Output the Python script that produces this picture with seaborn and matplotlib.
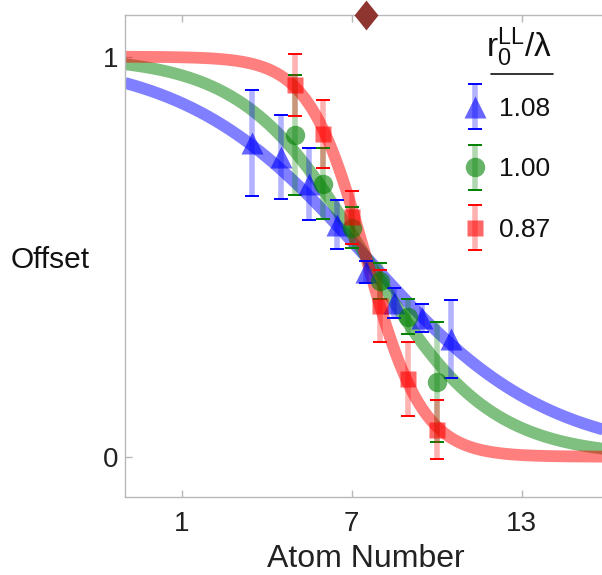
import numpy as np
import pandas as pd
import matplotlib
matplotlib.use("Agg")
import matplotlib.pyplot as plt
import seaborn as sns
from matplotlib.lines import Line2D
from matplotlib.container import ErrorbarContainer
from matplotlib.legend_handler import HandlerErrorbar

# ---- measured offsets per atom, for three values of r0/lambda ----
labels = ["1.08", "1.00", "0.87"]
legend_title = r"r$_0^{\mathrm{LL}}$/λ"
colors = ["#0000ff", "#008000", "#ff0000"]
markers = ["^", "o", "s"]
marker_sizes = [16, 14, 11.5]

atoms_108 = [3.5, 4.5, 5.5, 6.5, 7.5, 8.5, 9.5, 10.5]
offset_108 = [0.785, 0.749, 0.682, 0.580, 0.462, 0.385, 0.347, 0.294]
err_108 = [0.133, 0.105, 0.090, 0.061, 0.028, 0.038, 0.036, 0.097]

atoms_100 = [5, 6, 7, 8, 9, 10]
offset_100 = [0.804, 0.683, 0.573, 0.440, 0.350, 0.187]
err_100 = [0.150, 0.089, 0.052, 0.045, 0.044, 0.149]

atoms_087 = [5, 6, 7, 8, 9, 10]
offset_087 = [0.929, 0.806, 0.599, 0.377, 0.194, 0.068]
err_087 = [0.077, 0.085, 0.066, 0.091, 0.092, 0.074]

# Fermi-function fits: offset = 1 / (1 + exp((n - center) / width))
fit_center = [7.5, 7.5, 7.5]
fit_width = [3.2, 2.15, 1.0]
crossing_x = 7.5

xticks = [1, 7, 13]
yticks = [0, 1]

sns.set_theme(style="white")
plt.rcParams["font.family"] = ["Liberation Sans", "DejaVu Sans"]
plt.rcParams["mathtext.fontset"] = "custom"
plt.rcParams["mathtext.rm"] = "Liberation Sans"
plt.rcParams["mathtext.it"] = "Liberation Sans"

W, H = 602, 575
fig = plt.figure(figsize=(W / 100, H / 100), dpi=100)

ax_left, ax_bottom_px, ax_top_px = 125, 496.7, 14.7
xlim = (-1, 16.5)
ppu = 28.33
ax_w = (xlim[1] - xlim[0]) * ppu
ax_h = ax_bottom_px - ax_top_px
ax = fig.add_axes([ax_left / W, (H - ax_bottom_px) / H, ax_w / W, ax_h / H])

# fitted curves
xs = np.linspace(xlim[0], xlim[1], 400)
for c, w, col in zip(fit_center, fit_width, colors):
    curve = pd.DataFrame({"n": xs, "y": 1.0 / (1.0 + np.exp((xs - c) / w))})
    sns.lineplot(data=curve, x="n", y="y", ax=ax, color=col, alpha=0.5,
                 lw=8.5, solid_capstyle="butt", zorder=2)

# data points with error bars
series = [(atoms_108, offset_108, err_108),
          (atoms_100, offset_100, err_100),
          (atoms_087, offset_087, err_087)]
handles = []
for (xv, yv, ev), col, mk, ms in zip(series, colors, markers, marker_sizes):
    rgb = matplotlib.colors.to_rgb(col)
    eb = ax.errorbar(xv, yv, yerr=ev, fmt=mk, ms=ms,
                     mfc=(*rgb, 0.6), mec="none",
                     ecolor=(*rgb, 0.3), elinewidth=4,
                     capsize=5, capthick=1.4, zorder=3)
    for cap in eb[1]:
        cap.set_color(col)
        cap.set_markeredgecolor(col)
    handles.append(eb)

# marker for the crossing point on the top axis
diamond = [(0, 1), (0.8, 0), (0, -1), (-0.8, 0), (0, 1)]
ax.plot([crossing_x], [1.105], marker=diamond, ms=21.5, color="#8f3530",
        mec="none", clip_on=False, zorder=10)

ax.set_xlim(*xlim)
ax.set_ylim(-0.1, 1.105)
ax.set_xticks(xticks)
ax.set_yticks(yticks)
ax.set_xticklabels([str(t) for t in xticks])
ax.set_yticklabels([str(t) for t in yticks])

for side in ["left", "bottom", "top", "right"]:
    ax.spines[side].set_color("#b8b8b8")
    ax.spines[side].set_linewidth(1.0)
ax.tick_params(axis="x", direction="in", length=5, width=1, color="#b8b8b8",
               top=True, bottom=True, labelsize=20, pad=10, labelcolor="#222222")
ax.tick_params(axis="y", direction="in", length=5, width=1, color="#b8b8b8",
               left=True, right=False, labelsize=20, pad=5, labelcolor="#222222")

ax.set_xlabel("Atom Number", fontsize=23, color="#222222")
ax.xaxis.set_label_coords((366 - ax_left) / ax_w, -(567 - ax_bottom_px) / ax_h)
ax.xaxis.label.set_va("baseline")
ax.set_ylabel("Offset", fontsize=21.5, rotation=0, color="#111111")
ax.yaxis.set_label_coords((50.5 - ax_left) / ax_w, (ax_bottom_px - 260) / ax_h)
ax.yaxis.label.set_va("center")
ax.yaxis.label.set_ha("center")

leg = ax.legend(handles=handles, labels=labels,
                fontsize=19, frameon=False, numpoints=1,
                loc="upper right", bbox_to_anchor=(550 / W, 1 - 97 / H),
                bbox_transform=fig.transFigure, borderaxespad=0, borderpad=0,
                handlelength=1.0, handletextpad=0.4, labelspacing=1.38,
                handler_map={ErrorbarContainer: HandlerErrorbar(yerr_size=0.85)})
for t in leg.get_texts():
    t.set_color("#111111")

# legend heading with a rule beneath it
fig.text(552 / W, 1 - 57 / H, legend_title, fontsize=24, color="#111111",
         ha="right", va="baseline")
fig.add_artist(Line2D([491 / W, 553 / W], [1 - 74 / H, 1 - 74 / H],
                      transform=fig.transFigure, color="#111111", lw=1.2))

fig.savefig("out.png", dpi=100)
